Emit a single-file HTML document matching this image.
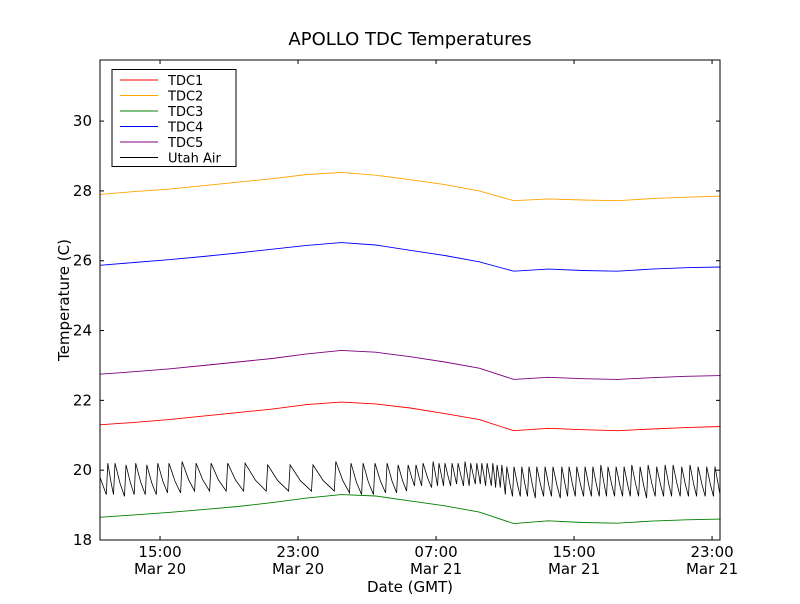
<!DOCTYPE html>
<html><head><meta charset="utf-8"><style>
body{margin:0;background:#fff;font-family:"DejaVu Sans","Liberation Sans",sans-serif}
</style></head><body>
<svg id="c" width="800" height="600" xmlns="http://www.w3.org/2000/svg" font-family="DejaVu Sans, Liberation Sans, sans-serif">
<rect width="800" height="600" fill="#fff"/>
<text x="410" y="45" font-size="18" text-anchor="middle">APOLLO TDC Temperatures</text>
<text x="410" y="592" font-size="15" text-anchor="middle">Date (GMT)</text>
<text x="69" y="300" font-size="15" text-anchor="middle" transform="rotate(-90 69 300)">Temperature (C)</text>
<g id="marks"></g>
<g id="axes"></g>
</svg>
<script>
const hours = [11.5,13.5,15.5,17.5,19.5,21.5,23.5,25.5,27.5,29.5,31.5,33.5,35.5,37.5,39.5,41.5,43.5,45.5,47.5];
const tdc1 = [21.3,21.37,21.45,21.55,21.65,21.75,21.88,21.95,21.9,21.78,21.62,21.45,21.13,21.2,21.16,21.13,21.18,21.22,21.25];
const tdc2 = [27.9,27.98,28.05,28.15,28.25,28.35,28.47,28.53,28.45,28.32,28.18,28.0,27.72,27.77,27.74,27.72,27.78,27.82,27.85];
const tdc3 = [18.65,18.72,18.79,18.87,18.96,19.07,19.2,19.3,19.26,19.12,18.98,18.8,18.47,18.55,18.5,18.48,18.54,18.58,18.6];
const tdc4 = [25.87,25.95,26.03,26.12,26.22,26.33,26.44,26.52,26.45,26.3,26.15,25.97,25.7,25.76,25.72,25.7,25.76,25.8,25.82];
const tdc5 = [22.75,22.82,22.9,23.0,23.1,23.2,23.33,23.43,23.38,23.25,23.1,22.92,22.6,22.66,22.62,22.6,22.65,22.69,22.71];
const airPeakHours = [11.97,12.39,13.03,13.59,14.23,14.87,15.52,16.28,17.09,17.96,18.92,19.93,21.24,22.54,23.87,25.19,26.07,26.77,27.46,28.16,28.8,29.38,29.84,30.25,30.83,31.17,31.52,31.93,32.28,32.68,33.01,33.36,33.65,33.96,34.29,34.54,34.81,35.1,35.52,35.97,36.39,36.84,37.32,37.78,38.29,38.71,39.16,39.64,40.09,40.55,40.97,41.44,41.9,42.35,42.83,43.29,43.79,44.28,44.74,45.24,45.72,46.19,46.69,47.17];
const airPeakVal = [20.2,20.2,20.15,20.2,20.15,20.2,20.2,20.25,20.2,20.2,20.2,20.2,20.15,20.15,20.15,20.25,20.2,20.2,20.2,20.2,20.15,20.15,20.15,20.2,20.25,20.2,20.2,20.2,20.2,20.25,20.2,20.2,20.2,20.2,20.2,20.15,20.15,20.1,20.1,20.1,20.1,20.1,20.1,20.1,20.1,20.1,20.1,20.1,20.1,20.15,20.1,20.1,20.1,20.15,20.1,20.15,20.1,20.15,20.15,20.1,20.15,20.1,20.1,20.1];
const airTroughVal = [19.3,19.3,19.25,19.3,19.3,19.3,19.35,19.35,19.4,19.4,19.4,19.4,19.4,19.4,19.4,19.4,19.35,19.3,19.3,19.35,19.35,19.4,19.55,19.55,19.5,19.55,19.55,19.55,19.6,19.55,19.55,19.6,19.6,19.55,19.55,19.5,19.5,19.3,19.25,19.25,19.25,19.2,19.25,19.25,19.2,19.25,19.25,19.25,19.25,19.25,19.25,19.25,19.25,19.25,19.25,19.2,19.25,19.25,19.25,19.25,19.25,19.25,19.25,19.25];
const yTicks = [18,20,22,24,26,28,30];
const xTickHours = [15,23,31,39,47];
const xTickTop = ["15:00","23:00","07:00","15:00","23:00"];
const xTickBottom = ["Mar 20","Mar 20","Mar 21","Mar 21","Mar 21"];

const L=100,R=720,T=60,B=540, X0=11.52,X1=47.46, Y0=18,Y1=31.75;
const xs=h=>L+(h-X0)/(X1-X0)*(R-L);
const ys=v=>B-(v-Y0)/(Y1-Y0)*(B-T);
const NS="http://www.w3.org/2000/svg";
const marks=document.getElementById('marks'), axes=document.getElementById('axes');
function mk(tag,attrs,parent){const e=document.createElementNS(NS,tag);for(const k in attrs)e.setAttribute(k,attrs[k]);parent.appendChild(e);return e;}
const series=[["TDC1",tdc1,"#ff0000"],["TDC2",tdc2,"#ffa500"],["TDC3",tdc3,"#008000"],["TDC4",tdc4,"#0000ff"],["TDC5",tdc5,"#800080"]];
series.forEach(([name,vals,col])=>{
  const p=mk('polyline',{points:vals.map((v,i)=>xs(hours[i]).toFixed(1)+','+ys(v).toFixed(1)).join(' '),fill:'none',stroke:col,'stroke-width':0.9},marks);
  
  
});
let pts=[[xs(X0),ys(19.8)]];
airPeakHours.forEach((h,i)=>{
  const x=xs(h), prev=i>0?xs(airPeakHours[i-1]):xs(X0);
  if(i>0){pts.push([prev+(x-prev)*0.45,ys(airTroughVal[i]+(airPeakVal[i-1]-airTroughVal[i])*0.4)]);}
  pts.push([x-1.5,ys(airTroughVal[i])]);pts.push([x,ys(airPeakVal[i])]);});
pts.push([xs(X1),ys(19.3)]);
const air=mk('polyline',{points:pts.map(p=>p[0].toFixed(1)+','+p[1].toFixed(1)).join(' '),fill:'none',stroke:'#000','stroke-width':0.8},marks);


const frame=mk('rect',{x:L,y:T,width:R-L,height:B-T,fill:'none',stroke:'#000','stroke-width':1},axes);


yTicks.forEach(v=>{const y=ys(v);
  mk('line',{x1:L,x2:L+4,y1:y,y2:y,stroke:'#000'},axes);mk('line',{x1:R,x2:R-4,y1:y,y2:y,stroke:'#000'},axes);
  const t=mk('text',{x:L-8,y:y+5,'font-size':15,'text-anchor':'end'},axes);t.textContent=v;
  
  
});
xTickHours.forEach((h,i)=>{const x=xs(h);
  mk('line',{x1:x,x2:x,y1:B,y2:B-4,stroke:'#000'},axes);mk('line',{x1:x,x2:x,y1:T,y2:T+4,stroke:'#000'},axes);
  const t=mk('text',{x:x,y:557,'font-size':15,'text-anchor':'middle'},axes);t.textContent=xTickTop[i];
  
  
  const t2=mk('text',{x:x,y:574,'font-size':15,'text-anchor':'middle'},axes);t2.textContent=xTickBottom[i];
  
  
});
const lg=mk('g',{},axes);


mk('rect',{x:112,y:69.5,width:124,height:97,fill:'#fff',stroke:'#000'},lg);
series.concat([["Utah Air",null,"#000"]]).forEach(([name,_,col],i)=>{const y=80+i*15.5;
  const ln=mk('line',{x1:120,x2:158,y1:y,y2:y,stroke:col,'stroke-width':1},lg);
  
  
  const t=mk('text',{x:168,y:y+5,'font-size':13},lg);t.textContent=name;
  
  
});
</script>
</body></html>
